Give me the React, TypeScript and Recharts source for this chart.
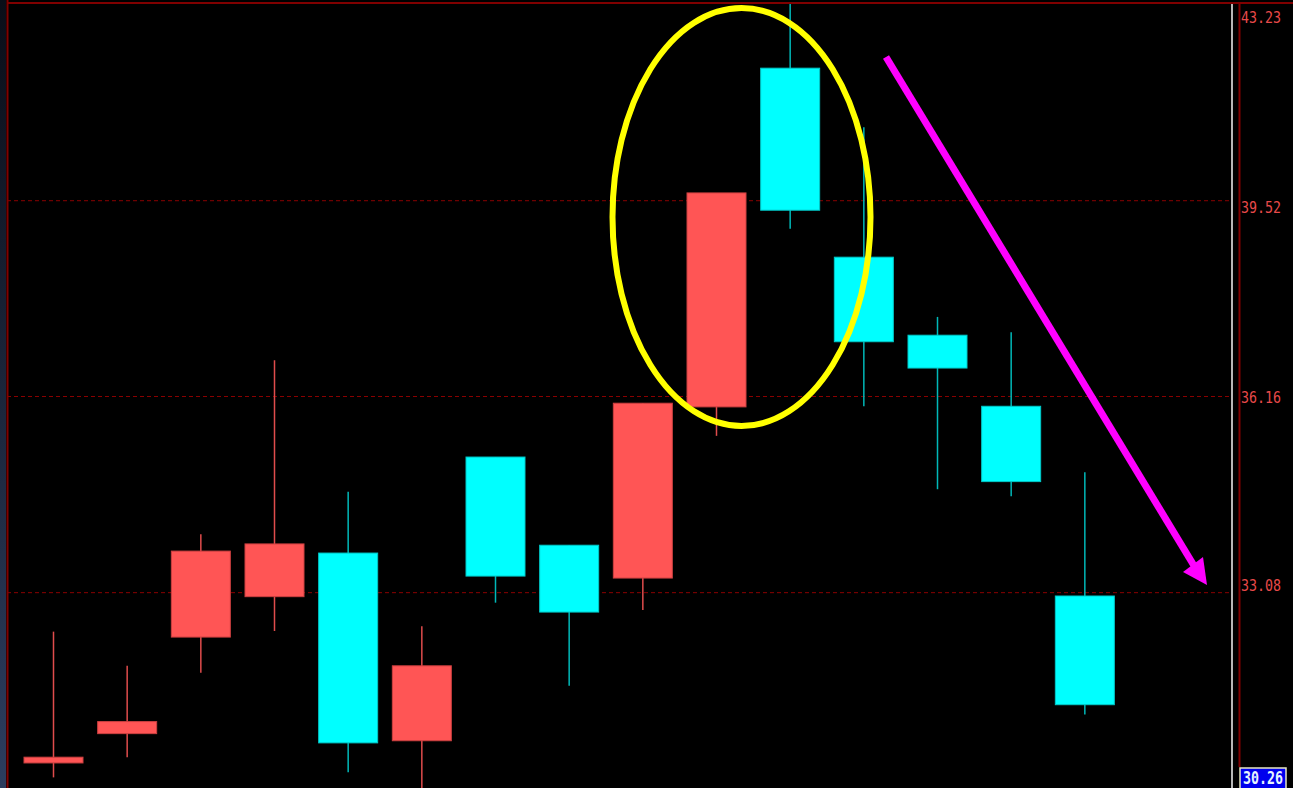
import React from "react";
import { ComposedChart, Bar, XAxis, YAxis, CartesianGrid } from "recharts";

const days = ["d1", "d2", "d3", "d4", "d5", "d6", "d7", "d8", "d9", "d10", "d11", "d12", "d13", "d14", "d15"];
const opens = [30.62, 31.03, 32.42, 33.02, 33.68, 30.93, 35.18, 33.8, 33.3, 35.99, 41.97, 38.52, 37.18, 36.0, 33.03];
const closes = [30.7, 31.2, 33.71, 33.82, 30.9, 32.0, 33.33, 32.79, 36.05, 39.66, 39.35, 37.07, 36.63, 34.79, 31.44];
const highs = [32.5, 32.0, 33.97, 36.76, 34.63, 32.58, 35.18, 33.8, 36.05, 39.66, 43.23, 40.86, 37.49, 37.23, 34.94];
const lows = [30.42, 30.7, 31.9, 32.51, 30.49, 30.27, 32.93, 31.71, 32.82, 35.52, 39.02, 36.0, 34.67, 34.56, 31.3];
const priceTicks = [30.26, 33.08, 36.16, 39.52, 43.23];

const data = days.map((d, i) => ({
  day: d,
  open: opens[i],
  close: closes[i],
  high: highs[i],
  low: lows[i],
}));

const Candle = (props: any) => {
  const { x, y, width, height, payload } = props;
  if (!payload || height == null) return null;
  const { open, close, high, low } = payload;
  const up = close >= open;
  const lh = Math.log(high);
  const ll = Math.log(low);
  const toY = (v: number) => (lh === ll ? y : y + ((lh - Math.log(v)) / (lh - ll)) * height);
  const top = toY(Math.max(open, close));
  const bot = toY(Math.min(open, close));
  const cx = x + width / 2;
  return (
    <g>
      <line x1={cx} x2={cx} y1={y} y2={y + height} stroke={up ? "#e04c4c" : "#00b8b8"} strokeWidth={1.5} />
      <rect
        x={x}
        y={top}
        width={width}
        height={Math.max(bot - top, 2)}
        fill={up ? "#ff5555" : "#00ffff"}
        stroke={up ? "#cc4040" : "#00c8c8"}
        strokeWidth={1}
      />
    </g>
  );
};

// vertical nudge of each price label, bottom to top
const labelShift = [-11, -7, 1, 7, 14];

const PriceTick = (props: any) => {
  const { x, y, payload, index } = props;
  const txt = payload.value.toFixed(2);
  const ty = y + labelShift[index];
  if (index === 0) {
    return (
      <g>
        <rect x={x + 8} y={ty - 10} width={46} height={21} fill="#0000ee" stroke="#e8e8c0" strokeWidth={1.5} />
        <text
          x={x + 11}
          y={ty}
          dy="0.36em"
          textAnchor="start"
          fill="#e6f4ff"
          fontSize={17}
          fontFamily="DejaVu Sans Mono"
          fontWeight="bold"
          textLength={40}
          lengthAdjust="spacingAndGlyphs"
        >
          {txt}
        </text>
      </g>
    );
  }
  return (
    <text
      x={x + 9}
      y={ty}
      dy="0.36em"
      textAnchor="start"
      fill="#e84a4a"
      fontSize={16}
      fontFamily="DejaVu Sans Mono"
      textLength={40}
      lengthAdjust="spacingAndGlyphs"
    >
      {txt}
    </text>
  );
};

export default function App() {
  return (
    <div style={{ position: "absolute", left: 0, top: 0, width: 1293, height: 788, background: "#000", overflow: "hidden" }}>
      <ComposedChart width={1293} height={792} data={data} margin={{ top: 3, right: 0, bottom: 3, left: 7 }}>
        <CartesianGrid vertical={false} stroke="#8a0000" strokeDasharray="4 3" />
        <XAxis dataKey="day" hide padding={{ left: 10, right: 110 }} />
        <YAxis
          orientation="right"
          width={61}
          scale="log"
          type="number"
          domain={[30.26, 43.23]}
          ticks={priceTicks}
          allowDataOverflow
          interval={0}
          tickLine={false}
          tickSize={0}
          tickMargin={0}
          axisLine={{ stroke: "#b8b8b8", strokeWidth: 2 }}
          tick={<PriceTick />}
        />
        <Bar dataKey={(d: any) => [d.low, d.high]} barSize={59} shape={<Candle />} isAnimationActive={false} />
      </ComposedChart>
      <svg width={1293} height={788} style={{ position: "absolute", left: 0, top: 0, pointerEvents: "none" }}>
        <defs>
          <linearGradient id="strip" x1="0" y1="0" x2="0" y2="1">
            <stop offset="0" stopColor="#0a0e18" />
            <stop offset="1" stopColor="#2c3d5e" />
          </linearGradient>
        </defs>
        <rect x={0} y={0} width={6} height={788} fill="url(#strip)" />
        <line x1={7.5} x2={7.5} y1={0} y2={788} stroke="#800000" strokeWidth={2} />
        <line x1={7} x2={1293} y1={3} y2={3} stroke="#800000" strokeWidth={2} />
        <line x1={1239.5} x2={1239.5} y1={3} y2={767} stroke="#800000" strokeWidth={2} />
        <ellipse cx={741.5} cy={217} rx={129} ry={209} fill="none" stroke="#ffff00" strokeWidth={6} />
        <line x1={886} y1={57} x2={1196} y2={569} stroke="#ff00ff" strokeWidth={7} />
        <polygon points="1207,585 1183,572 1203,557" fill="#ff00ff" />
      </svg>
    </div>
  );
}
